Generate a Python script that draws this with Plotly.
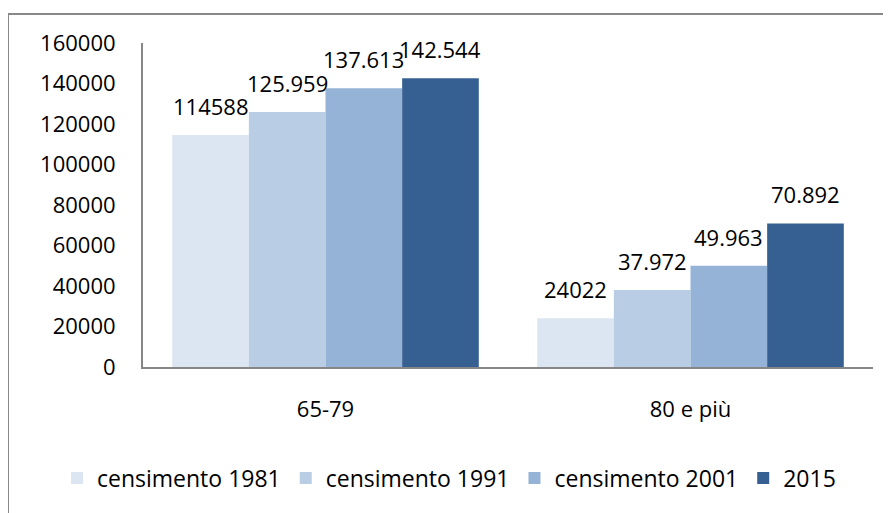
import plotly.graph_objects as go

categories = ["65-79", "80 e più"]
series_names = ["censimento 1981", "censimento 1991", "censimento 2001", "2015"]
values_1981 = [114588, 24022]
values_1991 = [125959, 37972]
values_2001 = [137613, 49963]
values_2015 = [142544, 70892]
labels_1981 = ["114588", "24022"]
labels_1991 = ["125.959", "37.972"]
labels_2001 = ["137.613", "49.963"]
labels_2015 = ["142.544", "70.892"]
y_ticks = [0, 20000, 40000, 60000, 80000, 100000, 120000, 140000, 160000]

colors = ["#DCE6F2", "#B9CDE5", "#95B3D7", "#376092"]
all_values = [values_1981, values_1991, values_2001, values_2015]
all_labels = [labels_1981, labels_1991, labels_2001, labels_2015]

FONT = "Open Sans"
W, H = 883, 505
ML, MR, MT, MB = 135, 18, 35, 146
BARGAP = 0.16

fig = go.Figure()
for name, vals, col in zip(series_names, all_values, colors):
    fig.add_trace(go.Bar(x=categories, y=vals, name=name,
                         marker=dict(color=col, line=dict(width=0))))

plot_w = W - ML - MR
plot_h = H - MT - MB
bar_w = plot_w / len(categories) * (1 - BARGAP) / len(series_names)
n = len(series_names)
for i, labs in enumerate(all_labels):
    for cat, v, lab in zip(categories, all_values[i], labs):
        fig.add_annotation(x=cat, y=v, text=lab, showarrow=False,
                           xref="x", yref="y", yanchor="bottom",
                           xshift=(i - (n - 1) / 2) * bar_w, yshift=12,
                           font=dict(family=FONT, size=22, color="#000000"))

def px_x(p):
    return (p - ML) / plot_w
def px_y(p):
    return (H - MB - p) / plot_h

fig.add_shape(type="rect", xref="paper", yref="paper",
              x0=px_x(0), x1=px_x(900), y0=px_y(520), y1=px_y(6),
              line=dict(color="#888888", width=2), fillcolor="rgba(0,0,0,0)")

fig.update_layout(
    width=W, height=H,
    margin=dict(l=ML, r=MR, t=MT, b=MB),
    paper_bgcolor="white", plot_bgcolor="white",
    barmode="group", bargap=BARGAP, bargroupgap=0,
    font=dict(family=FONT, size=22, color="#000000"),
    showlegend=True,
    legend=dict(orientation="h", x=px_x(49), xanchor="left",
                y=px_y(470), yanchor="middle",
                font=dict(family=FONT, size=23, color="#000000"),
                bgcolor="rgba(0,0,0,0)"),
    xaxis=dict(showline=True, linecolor="#868686", linewidth=2,
               ticks="", showgrid=False, ticklabelstandoff=22,
               tickfont=dict(family=FONT, size=22, color="#000000")),
    yaxis=dict(range=[0, 160000], tickvals=y_ticks,
               ticktext=[str(t) for t in y_ticks],
               showline=True, linecolor="#868686", linewidth=2,
               ticks="", showgrid=False, zeroline=False,
               ticklabelstandoff=21,
               tickfont=dict(family=FONT, size=22, color="#000000")),
)

fig.write_html("out.html")
